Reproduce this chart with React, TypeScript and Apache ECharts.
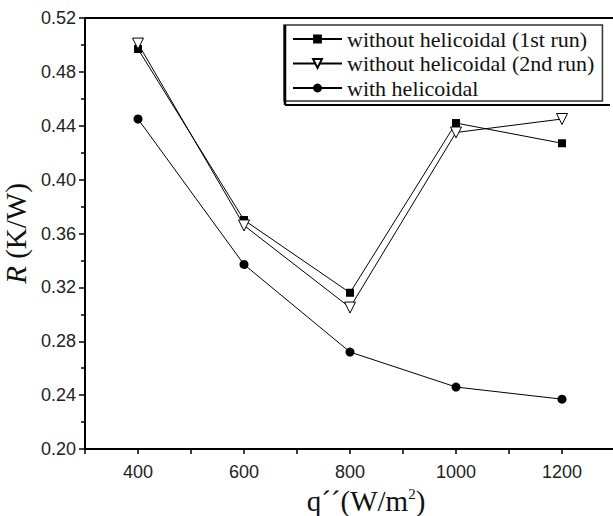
import React, { useEffect, useRef } from "react";
import * as echarts from "echarts";

const xValues = [400, 600, 800, 1000, 1200];
const run1 = [0.497, 0.370, 0.316, 0.442, 0.427];
const run2 = [0.501, 0.366, 0.305, 0.435, 0.445];
const withHelicoidal = [0.445, 0.337, 0.272, 0.246, 0.237];
const seriesNames = [
  "without helicoidal (1st run)",
  "without helicoidal (2nd run)",
  "with helicoidal",
];
const majorXLabels = [400, 600, 800, 1000, 1200];

const pairs = (ys: number[]) => xValues.map((x, i) => [x, ys[i]]);

export default function App() {
  const ref = useRef<HTMLDivElement>(null);
  useEffect(() => {
    if (!ref.current) return;
    const chart = echarts.init(ref.current, undefined, { renderer: "svg" });
    const serif = "'Liberation Serif', 'Times New Roman', serif";
    const sans = "'Liberation Sans', Arial, sans-serif";
    const lineStyle = { color: "#000", width: 1 };
    chart.setOption({
      animation: false,
      backgroundColor: "#fff",
      grid: {
        left: 85,
        top: 18,
        bottom: 67,
        width: 530,
        containLabel: false,
        outerBoundsMode: "none",
      },
      legend: {
        orient: "vertical",
        left: 284,
        top: 25,
        padding: [3, 8, 2, 8],
        itemGap: 2.5,
        itemWidth: 49,
        itemHeight: 11,
        backgroundColor: "#fff",
        borderColor: "#333",
        borderWidth: 1.5,
        textStyle: { fontFamily: serif, fontSize: 22, color: "#111", lineHeight: 22 },
        data: seriesNames,
      },
      xAxis: [
        {
          type: "value",
          min: 300,
          max: 1300,
          interval: 100,
          name: "{n|q´´(W/m}{sup|2}{n|)}",
          nameLocation: "middle",
          nameGap: 37,
          nameTextStyle: {
            fontFamily: serif,
            fontSize: 29,
            color: "#111",
            padding: [0, 0, 0, 32],
            rich: {
              n: { fontFamily: serif, fontSize: 29, color: "#111" },
              sup: { fontFamily: serif, fontSize: 15, color: "#111", verticalAlign: "top", padding: [0, 0, 14, 0] },
            },
          },
          axisLine: { show: true, lineStyle: { color: "#000", width: 2 } },
          axisTick: { show: true, length: 5, lineStyle: { color: "#000", width: 1.5 } },
          axisLabel: {
            margin: 14,
            fontFamily: sans,
            fontSize: 18,
            color: "#222",
            formatter: (v: number) => (majorXLabels.includes(v) ? String(v) : ""),
          },
          splitLine: { show: false },
        },
        {
          type: "value",
          position: "top",
          min: 300,
          max: 1300,
          axisLine: { show: true, lineStyle: { color: "#000", width: 2 } },
          axisTick: { show: false },
          axisLabel: { show: false },
          splitLine: { show: false },
        },
      ],
      yAxis: {
        type: "value",
        min: 0.2,
        max: 0.52,
        interval: 0.04,
        name: "{i|R}{n| (K/W)}",
        nameLocation: "middle",
        nameGap: 50,
        nameTextStyle: {
          fontFamily: serif,
          fontSize: 29,
          color: "#111",
          rich: {
            i: { fontFamily: serif, fontSize: 29, fontStyle: "italic", color: "#111" },
            n: { fontFamily: serif, fontSize: 29, color: "#111" },
          },
        },
        axisLine: { show: true, lineStyle: { color: "#000", width: 2 } },
        axisTick: { show: true, length: 6, lineStyle: { color: "#000", width: 1.5 } },
        minorTick: { show: true, splitNumber: 2, length: 4, lineStyle: { color: "#000", width: 1.5 } },
        axisLabel: {
          margin: 9,
          fontFamily: sans,
          fontSize: 18,
          color: "#222",
          formatter: (v: number) => v.toFixed(2),
        },
        splitLine: { show: false },
      },
      graphic: [
        { type: "line", shape: { x1: 285, y1: 25, x2: 285, y2: 105 }, style: { stroke: "#000", lineWidth: 2.5 }, z: 100 },
        { type: "line", shape: { x1: 285, y1: 105, x2: 610, y2: 105 }, style: { stroke: "#000", lineWidth: 2 }, z: 100 },
      ],
      series: [
        {
          name: seriesNames[0],
          type: "line",
          data: pairs(run1),
          symbol: "rect",
          symbolSize: 8,
          itemStyle: { color: "#000" },
          lineStyle,
          z: 3,
        },
        {
          name: seriesNames[1],
          type: "line",
          data: pairs(run2),
          symbol: "triangle",
          symbolRotate: 180,
          symbolSize: 11,
          itemStyle: { color: "#fff", borderColor: "#000", borderWidth: 1 },
          lineStyle,
          z: 4,
        },
        {
          name: seriesNames[2],
          type: "line",
          data: pairs(withHelicoidal),
          symbol: "circle",
          symbolSize: 9,
          itemStyle: { color: "#000" },
          lineStyle,
          z: 3,
        },
      ],
    });
    return () => chart.dispose();
  }, []);
  return (
    <div
      ref={ref}
      style={{ position: "fixed", left: 0, top: 0, width: 613, height: 516, overflow: "hidden" }}
    />
  );
}
